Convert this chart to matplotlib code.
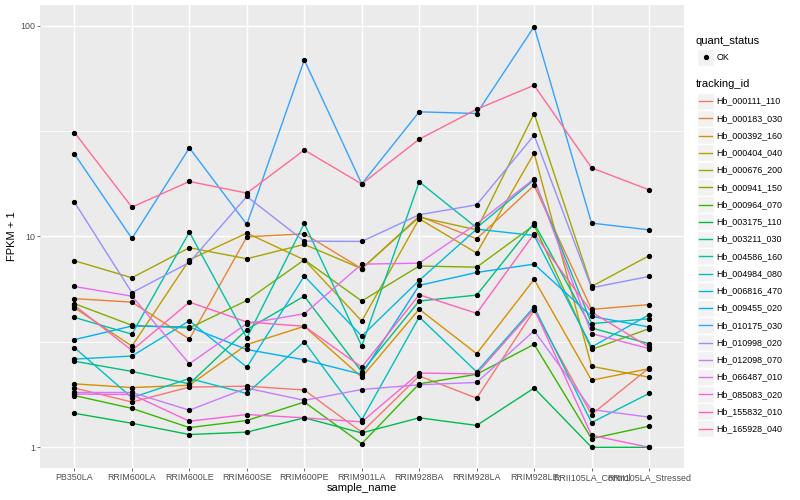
import matplotlib
matplotlib.use("Agg")
import matplotlib.pyplot as plt
from matplotlib.ticker import FixedLocator, NullFormatter, FixedFormatter
from matplotlib.patches import Rectangle
from matplotlib.lines import Line2D

plt.rcParams['font.family'] = ['Liberation Sans', 'DejaVu Sans']

samples = ["PB350LA", "RRIM600LA", "RRIM600LE", "RRIM600SE", "RRIM600PE",
           "RRIM901LA", "RRIM928BA", "RRIM928LA", "RRIM928LE",
           "RRII105LA_Control", "RRII105LA_Stressed"]

tracking_ids = ["Hb_000111_110", "Hb_000183_030", "Hb_000392_160", "Hb_000404_040",
                "Hb_000676_200", "Hb_000941_150", "Hb_000964_070", "Hb_003175_110",
                "Hb_003211_030", "Hb_004586_160", "Hb_004984_080", "Hb_006816_470",
                "Hb_009455_020", "Hb_010175_030", "Hb_010998_020", "Hb_012098_070",
                "Hb_066487_010", "Hb_085083_020", "Hb_155832_010", "Hb_165928_040"]

colors = ["#F8766D", "#EA8331", "#D89000", "#C09B00", "#A3A500", "#7CAE00",
          "#39B600", "#00BB4E", "#00BF7D", "#00C1A3", "#00BFC4", "#00BAE0",
          "#00B0F6", "#35A2FF", "#9590FF", "#C77CFF", "#E76BF3", "#FA62DB",
          "#FF62BC", "#FF6C91"]

# FPKM + 1 values per sample
hb_000111_110 = [1.91, 1.64, 1.93, 1.95, 1.87, 1.18, 2.18, 1.71, 4.46, 1.43, 2.38]
hb_000183_030 = [5.07, 4.88, 3.26, 9.96, 10.29, 7.03, 12.48, 9.75, 17.45, 4.51, 4.75]
hb_000392_160 = [2.00, 1.92, 1.97, 3.07, 3.75, 2.15, 4.52, 2.78, 6.26, 2.08, 2.36]
hb_000404_040 = [4.59, 3.02, 7.75, 10.37, 7.75, 3.97, 12.13, 8.34, 24.83, 2.42, 2.15]
hb_000676_200 = [7.67, 6.37, 8.84, 7.84, 9.17, 7.03, 12.35, 10.75, 38.28, 5.79, 8.10]
hb_000941_150 = [4.80, 3.79, 3.68, 4.97, 7.75, 4.94, 7.24, 7.15, 11.32, 2.91, 3.65]
hb_000964_070 = [1.76, 1.53, 1.24, 1.34, 1.64, 1.04, 2.00, 2.22, 3.08, 1.10, 1.26]
hb_003175_110 = [1.45, 1.30, 1.15, 1.18, 1.38, 1.17, 1.38, 1.27, 1.91, 1.00, 1.00]
hb_003211_030 = [2.56, 2.29, 2.00, 3.62, 5.21, 2.28, 4.94, 5.27, 11.57, 3.68, 3.10]
hb_004586_160 = [4.13, 3.44, 10.48, 3.30, 11.53, 3.02, 18.16, 10.99, 18.56, 3.86, 4.07]
hb_004984_080 = [2.97, 1.72, 2.12, 1.80, 3.17, 1.35, 4.15, 2.28, 4.63, 1.31, 1.80]
hb_006816_470 = [2.62, 2.71, 3.98, 2.40, 6.49, 3.37, 6.19, 10.83, 10.11, 2.99, 4.25]
hb_009455_020 = [3.24, 3.76, 3.72, 2.91, 2.60, 2.22, 5.86, 6.75, 7.39, 4.18, 3.72]
hb_010175_030 = [24.60, 9.78, 26.30, 11.40, 68.71, 17.74, 39.00, 38.28, 98.86, 11.57, 10.75]
hb_010998_020 = [14.54, 5.41, 7.53, 15.47, 9.50, 9.47, 12.67, 14.13, 30.20, 5.71, 6.46]
hb_012098_070 = [1.82, 1.82, 1.50, 1.91, 1.67, 1.88, 1.98, 2.03, 3.57, 1.51, 1.39]
hb_066487_010 = [5.79, 5.21, 2.49, 3.86, 4.30, 7.39, 7.47, 11.48, 18.76, 3.46, 2.94]
hb_085083_020 = [1.79, 1.78, 1.33, 1.43, 1.38, 1.32, 2.25, 2.23, 4.54, 1.14, 1.00]
hb_155832_010 = [4.71, 2.88, 4.88, 3.93, 3.75, 2.40, 5.29, 4.32, 10.29, 4.38, 2.99]
hb_165928_040 = [31.10, 13.77, 18.23, 16.05, 25.70, 17.74, 28.91, 40.09, 52.12, 21.15, 16.64]

series = [hb_000111_110, hb_000183_030, hb_000392_160, hb_000404_040, hb_000676_200,
          hb_000941_150, hb_000964_070, hb_003175_110, hb_003211_030, hb_004586_160,
          hb_004984_080, hb_006816_470, hb_009455_020, hb_010175_030, hb_010998_020,
          hb_012098_070, hb_066487_010, hb_085083_020, hb_155832_010, hb_165928_040]

W, H = 800, 500
fig = plt.figure(figsize=(8, 5), dpi=100)
fig.patch.set_facecolor("white")

px_l, px_r, px_t, px_b = 40.0, 683.5, 4.5, 468.4
ax = fig.add_axes([px_l / W, 1 - px_b / H, (px_r - px_l) / W, (px_b - px_t) / H])
ax.set_facecolor("#EBEBEB")

for vals, c in zip(series, colors):
    ax.plot(samples, vals, color=c, lw=1.0, zorder=3, solid_joinstyle="round")
for vals in series:
    ax.plot(samples, vals, linestyle="none", marker="o", ms=2.8,
            color="black", zorder=4)

ax.set_yscale("log")
ax.set_ylim(10 ** -0.1, 10 ** 2.1)
ax.set_xlim(-0.6, len(samples) - 1 + 0.6)
ax.yaxis.set_major_locator(FixedLocator([1, 10, 100]))
ax.yaxis.set_major_formatter(FixedFormatter(["1", "10", "100"]))
ax.yaxis.set_minor_locator(FixedLocator([10 ** 0.5, 10 ** 1.5]))
ax.yaxis.set_minor_formatter(NullFormatter())

ax.grid(True, which="major", color="white", lw=1.05, zorder=1)
ax.grid(True, which="minor", axis="y", color="white", lw=0.55, zorder=1)
ax.set_axisbelow(True)
for s in ax.spines.values():
    s.set_visible(False)

ax.tick_params(axis="both", which="major", length=2.0, width=0.5, color="#333333",
               labelsize=6.4, labelcolor="#4D4D4D", pad=1.6)
ax.tick_params(axis="y", which="minor", length=0)

# axis titles
fig.text(((px_l + px_r) / 2) / W, 1 - 488 / H, "sample_name", ha="center", va="center",
         fontsize=8, color="black")
fig.text(12 / W, 1 - 236 / H, "FPKM + 1", ha="center", va="center", rotation=90,
         fontsize=8, color="black")

# legend drawn in pixel coordinates
lax = fig.add_axes([0, 0, 1, 1], facecolor="none")
lax.set_xlim(0, W)
lax.set_ylim(H, 0)
lax.axis("off")

kx, kw = 697.0, 17.0
tx = 716.5
lax.text(696, 40.5, "quant_status", fontsize=8, va="center", ha="left")
lax.add_patch(Rectangle((kx, 57 - kw / 2), kw, kw, fc="#F2F2F2", ec="white", lw=1))
lax.plot([kx + kw / 2], [57], marker="o", ms=2.8, color="black")
lax.text(tx, 57, "OK", fontsize=6.4, va="center", ha="left")

lax.text(696, 84, "tracking_id", fontsize=8, va="center", ha="left")
step = 17.26
for i, (tid, c) in enumerate(zip(tracking_ids, colors)):
    yc = 101 + i * step
    lax.add_patch(Rectangle((kx, yc - kw / 2), kw, kw, fc="#F2F2F2", ec="white", lw=1))
    lax.add_line(Line2D([kx + 1.7, kx + kw - 1.7], [yc, yc], color=c, lw=1.0))
    lax.text(tx, yc, tid, fontsize=6.4, va="center", ha="left")

fig.savefig("out.png", dpi=100)
